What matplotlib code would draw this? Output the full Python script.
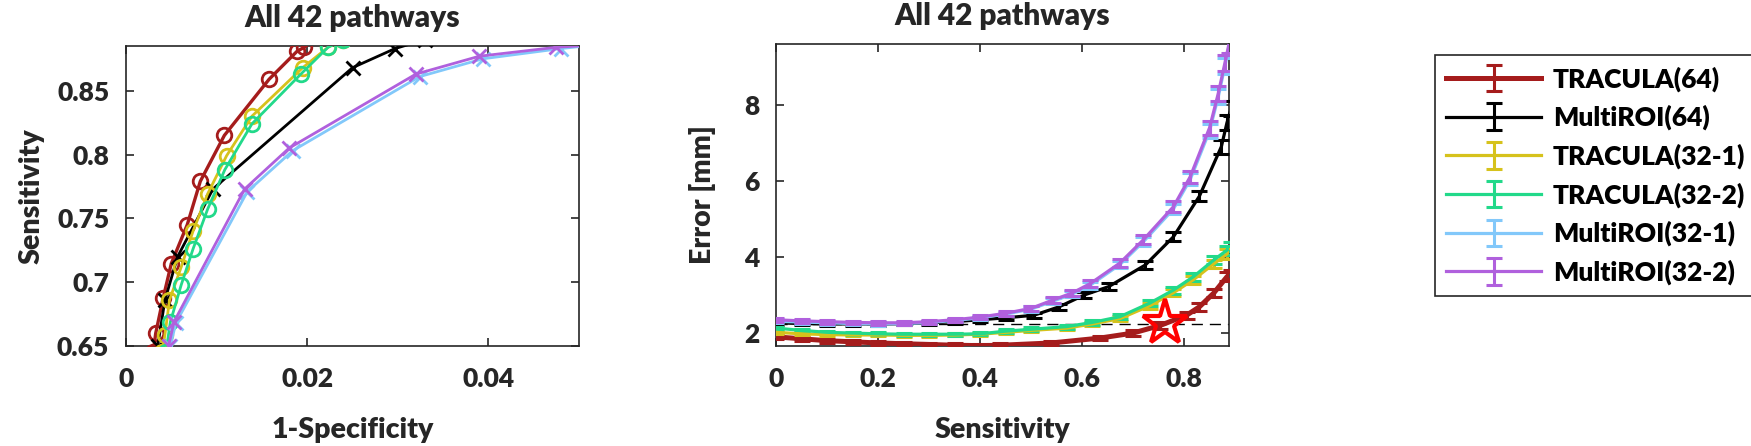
import matplotlib
matplotlib.use('Agg')
import matplotlib.pyplot as plt

plt.rcParams['font.family'] = ['Lato', 'DejaVu Sans']
plt.rcParams['font.weight'] = 'heavy'
plt.rcParams['axes.labelweight'] = 'heavy'
plt.rcParams['axes.titleweight'] = 'heavy'

TEXT = '#262626'
FW = 'heavy'

series_names = ['TRACULA(64)', 'MultiROI(64)', 'TRACULA(32-1)', 'TRACULA(32-2)',
                'MultiROI(32-1)', 'MultiROI(32-2)']
series_colors = ['#A51C1C', '#000000', '#D6C21C', '#22D98A', '#82C8FA', '#B060DD']
series_markers = ['o', 'x', 'o', 'o', 'x', 'x']

# ---- ROC data (1-specificity, sensitivity) ----
roc_fpr_tracula64 = [0.0030, 0.00328, 0.0041, 0.0050, 0.00676, 0.0082, 0.01086, 0.0158, 0.0189, 0.0197, 0.0215]
roc_sens_tracula64 = [0.645, 0.660, 0.6875, 0.7146, 0.745, 0.779, 0.815, 0.859, 0.881, 0.884, 0.895]
roc_fpr_multiroi64 = [0.0033, 0.0035, 0.0043, 0.0057, 0.0096, 0.0250, 0.0297, 0.0330]
roc_sens_multiroi64 = [0.640, 0.650, 0.686, 0.720, 0.773, 0.868, 0.883, 0.890]
roc_fpr_tracula32_1 = [0.0040, 0.0043, 0.0048, 0.0061, 0.0074, 0.0090, 0.0111, 0.0139, 0.0195, 0.0223, 0.0240]
roc_sens_tracula32_1 = [0.645, 0.659, 0.686, 0.712, 0.740, 0.769, 0.799, 0.830, 0.868, 0.884, 0.890]
roc_fpr_tracula32_2 = [0.0044, 0.0049, 0.0061, 0.0074, 0.0090, 0.0109, 0.0139, 0.0193, 0.0223, 0.0240]
roc_sens_tracula32_2 = [0.645, 0.669, 0.698, 0.726, 0.757, 0.788, 0.824, 0.863, 0.884, 0.890]
roc_fpr_multiroi32_1 = [0.0047, 0.0049, 0.0055, 0.0134, 0.0184, 0.0324, 0.0394, 0.0480, 0.0520]
roc_sens_multiroi32_1 = [0.640, 0.650, 0.668, 0.771, 0.803, 0.861, 0.875, 0.883, 0.886]
roc_fpr_multiroi32_2 = [0.0045, 0.0047, 0.0053, 0.0131, 0.0180, 0.0320, 0.0390, 0.0475, 0.0520]
roc_sens_multiroi32_2 = [0.640, 0.650, 0.669, 0.773, 0.805, 0.863, 0.877, 0.884, 0.886]

# ---- Error vs sensitivity data ----
err_sens_tracula64 = [0.0, 0.05, 0.10, 0.15, 0.20, 0.25, 0.30, 0.35, 0.40, 0.44, 0.54, 0.636, 0.70, 0.753, 0.805, 0.83, 0.858, 0.884, 0.892]
err_mm_tracula64 = [1.90, 1.85, 1.80, 1.77, 1.74, 1.72, 1.70, 1.68, 1.67, 1.68, 1.74, 1.87, 2.00, 2.20, 2.47, 2.69, 3.05, 3.48, 3.55]
err_sd_tracula64 = [0.05, 0.05, 0.05, 0.05, 0.05, 0.05, 0.05, 0.05, 0.05, 0.05, 0.06, 0.06, 0.07, 0.08, 0.09, 0.10, 0.10, 0.12, 0.12]

err_sens_multiroi64 = [0.0, 0.05, 0.10, 0.15, 0.20, 0.25, 0.30, 0.35, 0.40, 0.45, 0.506, 0.555, 0.604, 0.652, 0.724, 0.779, 0.83, 0.873, 0.884, 0.892]
err_mm_multiroi64 = [2.27, 2.25, 2.24, 2.24, 2.24, 2.25, 2.27, 2.30, 2.35, 2.40, 2.47, 2.69, 3.00, 3.22, 3.79, 4.53, 5.60, 6.90, 7.53, 7.90]
err_sd_multiroi64 = [0.05, 0.05, 0.05, 0.05, 0.05, 0.05, 0.05, 0.06, 0.06, 0.06, 0.07, 0.08, 0.08, 0.09, 0.10, 0.12, 0.14, 0.18, 0.20, 0.20]

err_sens_tracula32_1 = [0.0, 0.05, 0.10, 0.15, 0.20, 0.25, 0.30, 0.35, 0.40, 0.45, 0.50, 0.57, 0.62, 0.674, 0.733, 0.779, 0.818, 0.858, 0.884, 0.892]
err_mm_tracula32_1 = [2.02, 1.98, 1.96, 1.95, 1.95, 1.94, 1.94, 1.95, 1.97, 2.02, 2.07, 2.13, 2.24, 2.38, 2.72, 3.06, 3.40, 3.82, 4.08, 4.18]
err_sd_tracula32_1 = [0.04, 0.04, 0.04, 0.04, 0.04, 0.04, 0.04, 0.04, 0.04, 0.05, 0.05, 0.05, 0.06, 0.07, 0.08, 0.09, 0.10, 0.11, 0.12, 0.12]

err_sens_tracula32_2 = [0.0, 0.05, 0.10, 0.15, 0.20, 0.25, 0.30, 0.35, 0.40, 0.45, 0.50, 0.57, 0.62, 0.674, 0.733, 0.779, 0.818, 0.858, 0.884, 0.892]
err_mm_tracula32_2 = [2.13, 2.07, 2.02, 2.00, 1.98, 1.97, 1.97, 1.97, 1.98, 2.05, 2.10, 2.17, 2.28, 2.43, 2.79, 3.13, 3.48, 3.92, 4.18, 4.28]
err_sd_tracula32_2 = [0.04, 0.04, 0.04, 0.04, 0.04, 0.04, 0.04, 0.04, 0.04, 0.05, 0.05, 0.05, 0.06, 0.07, 0.08, 0.09, 0.10, 0.11, 0.12, 0.12]

err_sens_multiroi32_1 = [0.0, 0.05, 0.10, 0.15, 0.20, 0.25, 0.30, 0.35, 0.40, 0.45, 0.50, 0.543, 0.58, 0.616, 0.674, 0.72, 0.779, 0.812, 0.85, 0.867, 0.880, 0.888]
err_mm_multiroi32_1 = [2.31, 2.29, 2.27, 2.25, 2.24, 2.25, 2.28, 2.33, 2.40, 2.50, 2.63, 2.84, 3.02, 3.26, 3.80, 4.40, 5.26, 6.04, 7.32, 8.22, 9.02, 9.55]
err_sd_multiroi32_1 = [0.05, 0.05, 0.05, 0.05, 0.05, 0.05, 0.05, 0.05, 0.06, 0.06, 0.07, 0.07, 0.08, 0.09, 0.10, 0.12, 0.14, 0.16, 0.18, 0.20, 0.22, 0.24]

err_sens_multiroi32_2 = [0.0, 0.05, 0.10, 0.15, 0.20, 0.25, 0.30, 0.35, 0.40, 0.45, 0.50, 0.543, 0.58, 0.616, 0.674, 0.72, 0.779, 0.812, 0.85, 0.867, 0.880, 0.888]
err_mm_multiroi32_2 = [2.35, 2.32, 2.30, 2.28, 2.27, 2.27, 2.30, 2.35, 2.42, 2.52, 2.65, 2.87, 3.05, 3.30, 3.84, 4.45, 5.32, 6.11, 7.40, 8.30, 9.10, 9.60]
err_sd_multiroi32_2 = [0.05, 0.05, 0.05, 0.05, 0.05, 0.05, 0.05, 0.05, 0.06, 0.06, 0.07, 0.07, 0.08, 0.09, 0.10, 0.12, 0.14, 0.16, 0.18, 0.20, 0.22, 0.24]

reference_error = 2.24
selected_sens = 0.763
selected_err = 2.26

roc_fpr = [roc_fpr_tracula64, roc_fpr_multiroi64, roc_fpr_tracula32_1, roc_fpr_tracula32_2,
           roc_fpr_multiroi32_1, roc_fpr_multiroi32_2]
roc_sens = [roc_sens_tracula64, roc_sens_multiroi64, roc_sens_tracula32_1, roc_sens_tracula32_2,
            roc_sens_multiroi32_1, roc_sens_multiroi32_2]
err_sens = [err_sens_tracula64, err_sens_multiroi64, err_sens_tracula32_1, err_sens_tracula32_2,
            err_sens_multiroi32_1, err_sens_multiroi32_2]
err_mm = [err_mm_tracula64, err_mm_multiroi64, err_mm_tracula32_1, err_mm_tracula32_2,
          err_mm_multiroi32_1, err_mm_multiroi32_2]
err_sd = [err_sd_tracula64, err_sd_multiroi64, err_sd_tracula32_1, err_sd_tracula32_2,
          err_sd_multiroi32_1, err_sd_multiroi32_2]

fig = plt.figure(figsize=(17.51, 4.46), dpi=100)
W, H = 1751.0, 446.0
ax1 = fig.add_axes([126 / W, 1 - 346 / H, (579 - 126) / W, (346 - 46) / H])
ax2 = fig.add_axes([776 / W, 1 - 346 / H, (1229 - 776) / W, (346 - 44) / H])

draw_order = [4, 5, 2, 3, 1, 0]

for i in draw_order:
    lw = 2.4 if i == 0 else 2.0
    ax1.plot(roc_fpr[i], roc_sens[i], color=series_colors[i], lw=lw,
             marker=series_markers[i], ms=10.5, mfc='none', mew=2.0, zorder=3 + i * 0.1)

handles = {}
for i in draw_order:
    lw = 3.6 if i == 0 else 2.3
    h = ax2.errorbar(err_sens[i], err_mm[i], yerr=err_sd[i], color=series_colors[i],
                     lw=lw, elinewidth=2.2, capsize=5.5, capthick=2.2, zorder=3 + i * 0.1)
    handles[i] = h

ax2.axhline(reference_error, color='black', lw=1.0, ls=(0, (8, 5)), zorder=2)
ax2.plot([selected_sens], [selected_err], marker='*', ms=34, mfc='none', mec='#FF0000',
         mew=3, ls='none', zorder=10)

for ax in (ax1, ax2):
    ax.tick_params(direction='in', length=6, width=1.2, colors=TEXT, labelsize=19,
                   top=True, right=True)
    ax.tick_params(axis='x', pad=15)
    ax.tick_params(axis='y', pad=12)
    for s in ax.spines.values():
        s.set_color(TEXT)
        s.set_linewidth(1.2)

ax1.set_xlim(0, 0.05)
ax1.set_ylim(0.65, 0.885)
ax1.set_xticks([0, 0.02, 0.04])
ax1.set_xticklabels(['0', '0.02', '0.04'], fontweight=FW)
ax1.set_yticks([0.65, 0.7, 0.75, 0.8, 0.85])
ax1.set_yticklabels(['0.65', '0.7', '0.75', '0.8', '0.85'], fontweight=FW)
ax1.set_xlabel('1-Specificity', fontsize=20.5, color=TEXT, labelpad=19, fontweight=FW)
ax1.set_ylabel('Sensitivity', fontsize=20.5, color=TEXT, labelpad=9, fontweight=FW)
ax1.set_title('All 42 pathways', fontsize=21.5, color=TEXT, pad=14, fontweight=FW)

ax2.set_xlim(0, 0.888)
ax2.set_ylim(1.66, 9.6)
ax2.set_xticks([0, 0.2, 0.4, 0.6, 0.8])
ax2.set_xticklabels(['0', '0.2', '0.4', '0.6', '0.8'], fontweight=FW)
ax2.set_yticks([2, 4, 6, 8])
ax2.set_yticklabels(['2', '4', '6', '8'], fontweight=FW)
ax2.set_xlabel('Sensitivity', fontsize=20.5, color=TEXT, labelpad=19, fontweight=FW)
ax2.set_ylabel('Error [mm]', fontsize=20.5, color=TEXT, labelpad=20, fontweight=FW)
ax2.set_title('All 42 pathways', fontsize=21.5, color=TEXT, pad=14, fontweight=FW)

leg = fig.legend([handles[i] for i in range(6)], series_names, loc='upper left',
                 bbox_to_anchor=(1435 / W, 1 - 55 / H), borderaxespad=0,
                 handlelength=3.6, handletextpad=0.45, labelspacing=0.5,
                 fancybox=False, framealpha=1, edgecolor=TEXT, borderpad=0.42,
                 prop={'size': 19, 'weight': FW})
leg.get_frame().set_linewidth(1.2)
for t in leg.get_texts():
    t.set_color('black')

fig.savefig('out.png', dpi=100)
